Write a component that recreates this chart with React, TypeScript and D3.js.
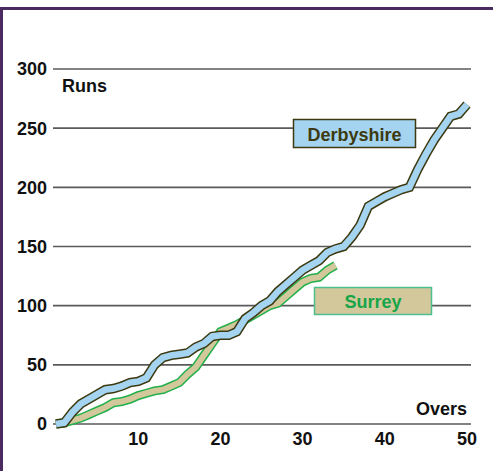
import React from 'react';
import * as d3 from 'd3';

const width = 493;
const height = 471;

// runs at the end of each over
const derbyshireRuns = [0, 1, 10, 17, 21, 25, 29, 30, 32, 35, 36, 39, 50, 56, 58, 59, 60, 65, 68, 74, 75,
  75, 78, 89, 94, 100, 104, 112, 118, 124, 130, 134, 138, 145, 148, 150, 158, 168, 184, 188, 192,
  195, 198, 200, 215, 228, 240, 250, 260, 262, 270];
const surreyRuns = [0, 1, 3, 5, 8, 11, 14, 18, 19, 21, 24, 26, 28, 29, 32, 35, 42, 48, 58, 68, 78,
  81, 84, 88, 92, 96, 100, 102, 108, 114, 120, 123, 124, 130, 134];

const yTicks = [0, 50, 100, 150, 200, 250, 300];
const xTicks = [10, 20, 30, 40, 50];

const x = d3.scaleLinear().domain([0, 50]).range([56, 467]);
const y = d3.scaleLinear().domain([0, 300]).range([424, 69]);

const line = d3.line<number>()
  .x((d, i) => x(i))
  .y(d => y(d));

const font = 'Liberation Sans, Arial, sans-serif';

export default function App() {
  const derby = line(derbyshireRuns) || '';
  const surrey = line(surreyRuns) || '';

  return (
    <svg width={width} height={height} style={{ position: 'absolute', left: 0, top: 0, background: '#fff' }}
      fontFamily={font} fontWeight="bold">
      {/* frame */}
      <line x1={0} x2={width} y1={8.5} y2={8.5} stroke="#4b2b5f" strokeWidth={3} />
      <line x1={1.5} x2={1.5} y1={7} y2={height} stroke="#4b2b5f" strokeWidth={3} />

      {/* grid */}
      {yTicks.map(t => (
        <g key={t}>
          <line x1={53} x2={471} y1={y(t)} y2={y(t)} stroke="#5a5a5a" strokeWidth={1.6} />
          <text x={47} y={y(t)} dy="0.36em" textAnchor="end" fontSize={18} fill="#111">{t}</text>
        </g>
      ))}
      {xTicks.map(t => (
        <text key={t} x={x(t)} y={445} textAnchor="middle" fontSize={18} fill="#111">{t}</text>
      ))}
      <text x={62} y={92} fontSize={18} fill="#111">Runs</text>
      <text x={467} y={415} textAnchor="end" fontSize={18} fill="#111">Overs</text>

      {/* Surrey band */}
      <path d={surrey} fill="none" stroke="#22b04a" strokeWidth={9} strokeLinejoin="miter" />
      <path d={surrey} fill="none" stroke="#d3c79c" strokeWidth={6} strokeLinejoin="miter" />

      {/* Derbyshire band */}
      <path d={derby} fill="none" stroke="#3d3a12" strokeWidth={9.5} strokeLinejoin="miter" />
      <path d={derby} fill="none" stroke="#a4d4f0" strokeWidth={6.5} strokeLinejoin="miter" />

      {/* labels */}
      <rect x={293.5} y={119.5} width={122} height={28} fill="#a4d4f0" stroke="#3d3a12" strokeWidth={1.5} />
      <text x={354.5} y={140.5} textAnchor="middle" fontSize={18} fill="#3d3a12">Derbyshire</text>

      <rect x={314.5} y={287.5} width={117} height={27} fill="#d3c79c" stroke="#4cbf8f" strokeWidth={1.5} />
      <text x={373} y={308} textAnchor="middle" fontSize={18} fill="#17a548">Surrey</text>
    </svg>
  );
}
